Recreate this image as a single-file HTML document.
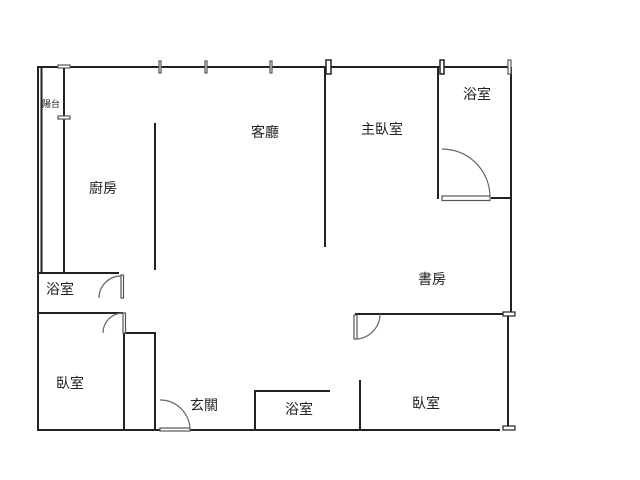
<!DOCTYPE html>
<html><head><meta charset="utf-8"><style>
html,body{margin:0;padding:0;background:#fff;}
svg{display:block;}
text{font-family:"Liberation Sans","Noto Sans CJK TC",sans-serif;fill:#222;}
</style></head><body>
<svg width="640" height="480" viewBox="0 0 640 480" xmlns="http://www.w3.org/2000/svg">
<g stroke="#222" stroke-width="2" fill="none">
<!-- top wall -->
<line x1="38" y1="67" x2="511" y2="67"/>
<!-- left outer double -->
<line x1="38" y1="66" x2="38" y2="431"/>
<line x1="41.5" y1="67" x2="41.5" y2="272"/>
<line x1="64" y1="67" x2="64" y2="272"/>
<!-- kitchen line -->
<line x1="155" y1="123" x2="155" y2="270"/>
<!-- left bath -->
<line x1="38" y1="273" x2="119" y2="273"/>
<!-- bedroom top -->
<line x1="38" y1="313" x2="123" y2="313"/>
<!-- box -->
<polyline points="124,431 124,333 155,333 155,431"/>
<!-- bottom wall -->
<line x1="37" y1="430" x2="160" y2="430"/>
<line x1="176" y1="430" x2="500" y2="430"/>
<!-- bottom bath -->
<polyline points="255,430 255,391 330,391"/>
<line x1="360" y1="380" x2="360" y2="430"/>
<!-- master bedroom -->
<line x1="325" y1="67" x2="325" y2="247"/>
<!-- right bath -->
<line x1="438" y1="67" x2="438" y2="199"/>
<line x1="491" y1="198" x2="511" y2="198"/>
<!-- right wall -->
<line x1="511" y1="67" x2="511" y2="314"/>
<line x1="508" y1="314" x2="508" y2="428"/>
<!-- study bottom -->
<line x1="355" y1="314" x2="505" y2="314"/>
</g>
<g stroke="#555" stroke-width="1.2" fill="#fff">
<!-- window marks -->
<rect x="58" y="65" width="12" height="3"/>
<rect x="58" y="116" width="12" height="3"/>
<rect x="159" y="61" width="2" height="12"/>
<rect x="205" y="61" width="2" height="12"/>
<rect x="270" y="61" width="2" height="12"/>
<rect x="326" y="60" width="5" height="14" stroke="#222" stroke-width="1.5"/>
<rect x="440" y="60" width="4" height="14" stroke="#222" stroke-width="1.5"/>
<rect x="508" y="60" width="3" height="14"/>
<rect x="503" y="312" width="12" height="4" stroke="#222"/>
<rect x="503" y="426" width="12" height="4" stroke="#222"/>
<!-- door leaves -->
<rect x="121" y="275" width="2.5" height="23"/>
<rect x="123" y="313" width="2.5" height="20"/>
<rect x="160" y="428" width="30" height="3"/>
<rect x="442" y="196" width="48" height="4.5"/>
<rect x="354" y="315" width="3" height="24"/>
</g>
<g stroke="#666" stroke-width="1.2" fill="none">
<path d="M99,298 A22,22 0 0 1 121,276"/>
<path d="M103,333 A20,20 0 0 1 123,313"/>
<path d="M160,400 A30,30 0 0 1 190,430"/>
<path d="M442,149 A48,48 0 0 1 490,197"/>
<path d="M380,314 A25,25 0 0 1 355,339"/>
</g>
<g font-size="14">
<text x="89" y="193">廚房</text>
<text x="251" y="137">客廳</text>
<text x="361" y="134">主臥室</text>
<text x="463" y="99">浴室</text>
<text x="418" y="284">書房</text>
<text x="46" y="294">浴室</text>
<text x="56" y="388">臥室</text>
<text x="190" y="410">玄關</text>
<text x="285" y="414">浴室</text>
<text x="412" y="408">臥室</text>
<text x="42" y="107" font-size="9">陽台</text>
</g>
</svg>
</body></html>
